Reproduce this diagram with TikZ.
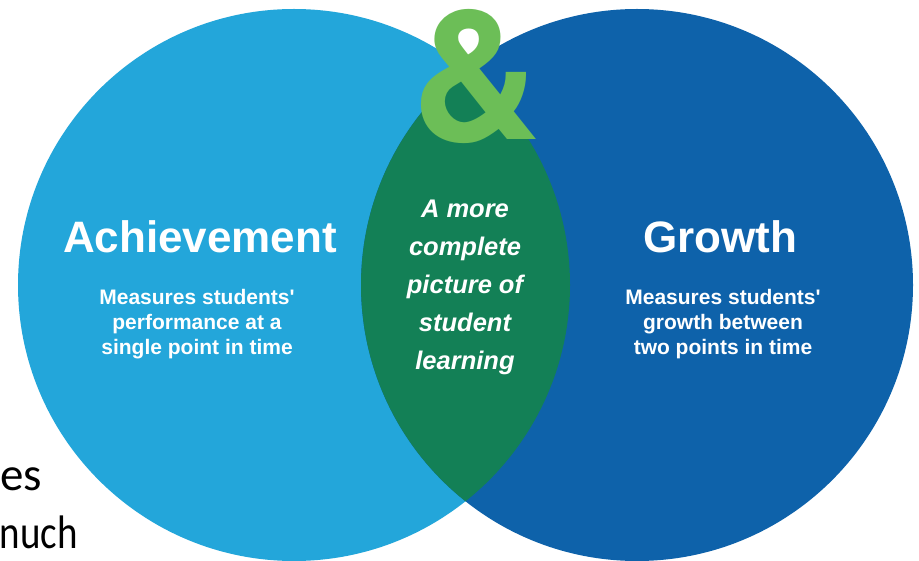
\documentclass[tikz,border=0pt]{standalone}
\usepackage{fontspec}
\setmainfont{Liberation Sans}
\newfontfamily\calib{Carlito}
\newfontfamily\heros{TeX Gyre Heros}
\definecolor{lblue}{HTML}{23A6DA}
\definecolor{dblue}{HTML}{0E62AA}
\definecolor{mgreen}{HTML}{138056}
\definecolor{lgreen}{HTML}{6CBE57}
\tikzset{
  heading/.style={text=white, font=\bfseries\fontsize{44}{48}\selectfont, anchor=base, inner sep=0pt},
  subtext/.style={text=white, font=\bfseries\fontsize{21}{25}\selectfont, align=center, anchor=base, inner sep=0pt},
  midtext/.style={text=white, font=\bfseries\itshape\fontsize{25.5}{38}\selectfont, align=center, anchor=base, inner sep=0pt},
  slidetext/.style={text=black, font=\calib\fontsize{47}{56}\selectfont, anchor=base east, inner sep=0pt}
}
\begin{document}
\begin{tikzpicture}[x=1pt,y=-1pt]
\useasboundingbox (0,0) rectangle (919,561);
\fill[white] (0,0) rectangle (919,561);
\begin{scope}
\clip (0,0) rectangle (919,561);
\fill[lblue] (294,285) circle[radius=276pt];
\fill[dblue] (637,285) circle[radius=276pt];
\begin{scope}
\clip (294,285) circle[radius=276pt];
\fill[mgreen] (637,285) circle[radius=276pt];
\end{scope}
\end{scope}
\node[text=lgreen, font=\heros\bfseries\fontsize{180}{180}\selectfont, anchor=base, inner sep=0pt, text height=130pt, text depth=0pt] (amp) at (476,140) {\&};
\node[heading] (ach) at (200,253) {Achievement};
\node[heading] (gro) at (720,253) {Growth};
\node[subtext] (achsub) at (197,355) {Measures students\textquotesingle\\performance at a\\single point in time};
\node[subtext] (grosub) at (723,355) {Measures students\textquotesingle\\growth between\\two points in time};
\node[midtext] (mid) at (465,370) {A more\\complete\\picture of\\student\\learning};
\node[slidetext] (es) at (42,490) {es};
\node[slidetext] (nuch) at (78,548) {\scalebox{0.83}[1]{nuch}};
\end{tikzpicture}
\end{document}
